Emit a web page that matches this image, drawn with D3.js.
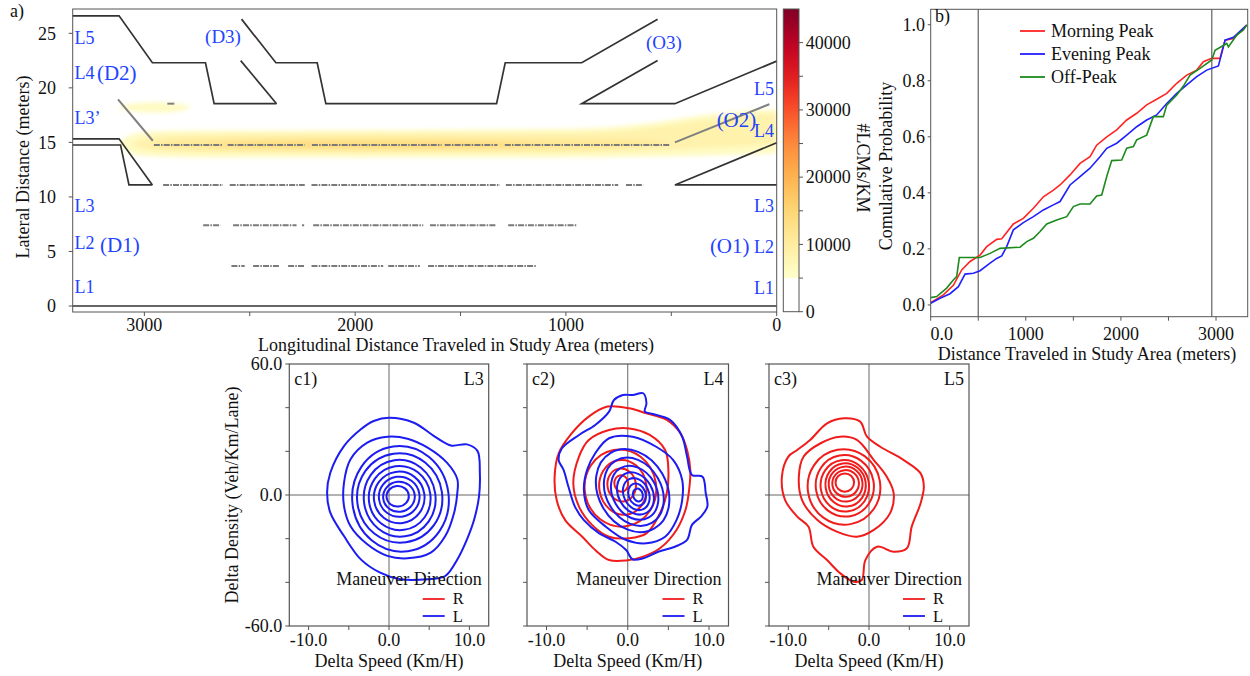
<!DOCTYPE html>
<html><head><meta charset="utf-8">
<script src="https://cdn.jsdelivr.net/npm/d3@7"></script>
<style>
body{margin:0;background:#fff;}
svg text{font-family:"Liberation Serif","Times New Roman",serif;font-size:18px;fill:#111;}
</style></head>
<body><svg id="chart" width="1250" height="676"></svg>
<script>
// ---------------- DATA ----------------
// Panel a: road geometry (x = metres from end of study area, y = lateral metres)
const aXTicks = [3000, 2000, 1000, 0];
const aXMinor = [2500, 1500, 500];
const aYTicks = [0, 5, 10, 15, 20, 25];
const roadLines = [
  [[3340,26.6],[3120,26.6],[2962,22.3],[2710,22.3],[2669,18.55],[2373,18.55]],
  [[2543,22.5],[2373,18.55]],
  [[2539,26.3],[2376,22.3],[2180,22.3],[2139,18.55],[1329,18.55],[1288,22.3],[925,22.3],[565,26.3]],
  [[565,22.5],[925,18.55],[483,18.55],[0,22.45]],
  [[3340,15.33],[3120,15.33],[2962,11.1]],
  [[3340,14.76],[3113,14.76],[3073,11.1],[2962,11.1]],
  [[0,14.97],[483,11.1],[0,11.1]],
  [[3340,0],[0,0]]
];
// lane-change trajectories: lateral position and observed longitudinal stretches
const lcLanes = [
  {y:14.76, segs:[[2955,2630],[2605,2240],[2205,1590],[1575,1325],[1290,506]]},
  {y:11.1,  segs:[[2911,2627],[2595,2239],[2207,1313],[1285,752],[715,633]]},
  {y:7.4,   segs:[[2721,2639],[2579,2278],[2252,2242],[2199,1677],[1645,1329],[1274,949]]},
  {y:3.67,  segs:[[2587,2524],[2484,2357],[2318,2239],[2207,1867],[1843,1693],[1654,1139]]}
];
const lcDiagonals = [
  [[3125,18.95],[2960,15.15]],
  [[483,15.0],[35,18.5]],
  [[2891,18.55],[2858,18.55]]
];
// LC density bands: value (#LCMs/KM) and [x, lower y, upper y]
const heatBands = [
  {v:6000, pts:[[3120,14.9,14.9],[3080,14.0,15.7],[3000,13.7,16.0],[2800,13.6,16.1],[2000,13.6,16.1],[1000,13.6,16.2],[744,13.65,16.4],[500,13.7,17.0],[364,13.75,17.5],[150,13.9,17.9],[0,14.0,18.0]]},
  {v:6000, pts:[[3125,18.2,18.2],[3080,17.85,18.55],[2950,17.65,18.75],[2820,17.85,18.55],[2775,18.2,18.2]]},
  {v:8500, pts:[[3060,14.8,14.8],[3000,14.2,15.6],[2800,14.0,15.8],[1000,14.0,15.8],[744,14.1,16.0],[500,14.3,16.6],[300,14.5,17.2],[100,14.7,17.6],[0,14.8,17.7]]},
  {v:11000, pts:[[2980,14.8,14.8],[2850,14.25,15.4],[2000,14.2,15.5],[1200,14.25,15.4],[800,14.4,15.3],[600,14.7,15.2],[500,14.9,14.9]]},
  {v:13500, pts:[[2700,14.8,14.8],[2500,14.45,15.15],[1800,14.4,15.2],[1300,14.5,15.1],[1100,14.8,14.8]]}
];
const laneLabels = [
  {t:"L5", x:3331, y:24.02, a:"start", s:18},
  {t:"L4", x:3331, y:20.81, a:"start", s:18},
  {t:"(D2)", x:3225, y:20.72, a:"start", s:21},
  {t:"L3\u2019", x:3331, y:16.69, a:"start", s:18},
  {t:"L3", x:3331, y:8.62, a:"start", s:18},
  {t:"L2", x:3331, y:5.23, a:"start", s:18},
  {t:"(D1)", x:3210, y:4.95, a:"start", s:21},
  {t:"L1", x:3331, y:1.19, a:"start", s:18},
  {t:"(D3)", x:2712, y:24.11, a:"start", s:19},
  {t:"(O3)", x:620, y:23.56, a:"start", s:19},
  {t:"L5", x:13, y:19.34, a:"end", s:18},
  {t:"(O2)", x:285, y:16.41, a:"start", s:21},
  {t:"L4", x:13, y:15.49, a:"end", s:18},
  {t:"L3", x:13, y:8.62, a:"end", s:18},
  {t:"(O1)", x:317, y:4.86, a:"start", s:21},
  {t:"L2", x:13, y:4.86, a:"end", s:18},
  {t:"L1", x:13, y:1.10, a:"end", s:18}
];
// colour bar
const cbTicks = [0, 10000, 20000, 30000, 40000];
const cbMinor = [5000, 15000, 25000, 35000];
const cbThreshold = 5000;

// Panel b: cumulative probability
const bXTicks = [0, 1000, 2000, 3000];
const bXLabels = ["0.0", "1000", "2000", "3000"];
const bXMinor = [500, 1500, 2500];
const bYTicks = [0, 0.2, 0.4, 0.6, 0.8, 1.0];
const bVLines = [500, 2955];
const morningPeak = [[0,0.008],[133,0.036],[238,0.07],[326,0.125],[414,0.155],[519,0.178],[589,0.208],[694,0.234],[747,0.236],[869,0.289],[974,0.309],[1080,0.345],[1185,0.386],[1290,0.41],[1360,0.428],[1465,0.464],[1570,0.505],[1675,0.529],[1745,0.57],[1851,0.6],[1956,0.625],[2061,0.66],[2166,0.684],[2271,0.714],[2376,0.734],[2482,0.755],[2587,0.791],[2692,0.82],[2797,0.838],[2867,0.868],[2955,0.88],[3042,0.88],[3095,0.945],[3183,0.951],[3323,0.999]];
const eveningPeak = [[0,0.006],[98,0.024],[203,0.04],[291,0.065],[361,0.11],[449,0.113],[519,0.122],[624,0.149],[694,0.166],[747,0.175],[799,0.208],[869,0.268],[974,0.294],[1080,0.315],[1185,0.339],[1290,0.357],[1360,0.369],[1465,0.428],[1570,0.458],[1675,0.488],[1780,0.529],[1851,0.559],[1956,0.577],[2061,0.606],[2166,0.636],[2271,0.66],[2376,0.678],[2482,0.719],[2587,0.755],[2692,0.785],[2797,0.815],[2902,0.838],[3025,0.853],[3095,0.945],[3183,0.955],[3323,0.999]];
const offPeak = [[0,0.026],[63,0.03],[168,0.06],[238,0.089],[273,0.101],[301,0.169],[519,0.169],[624,0.184],[729,0.202],[939,0.206],[1010,0.226],[1080,0.238],[1150,0.262],[1220,0.289],[1325,0.303],[1430,0.315],[1500,0.351],[1570,0.36],[1675,0.36],[1745,0.389],[1798,0.392],[1851,0.458],[1903,0.515],[2008,0.517],[2061,0.559],[2131,0.565],[2166,0.589],[2271,0.606],[2341,0.672],[2446,0.672],[2482,0.713],[2587,0.749],[2657,0.781],[2727,0.82],[2832,0.844],[2955,0.874],[2990,0.909],[3113,0.933],[3130,0.921],[3218,0.963],[3288,0.981],[3323,0.999]];
const bSeries = [
  {name:"Morning Peak", data:morningPeak, color:"#ff2424"},
  {name:"Evening Peak", data:eveningPeak, color:"#2020ff"},
  {name:"Off-Peak", data:offPeak, color:"#1e8a1e"}
];

// Panel c: KDE contour rings (delta speed, delta density)
const cXTicks = [-10, -5, 0, 5, 10];
const cXLabeled = [-10, 0, 10];
const cYTicks = [-60, -40, -20, 0, 20, 40, 60];
const cYLabeled = [-60, 0, 60];
// irregular outer rings as outlines; inner rings as [cx, cy, rx, ry, tilt]
const c1L_outlines = [
  [[0,35.4],[3.1,33.1],[5.6,27],[7.7,22.7],[9.7,23.2],[11,20.2],[11.3,10.2],[11.2,-0.5],[10.6,-11.1],[9.7,-20.3],[8.5,-29.5],[7,-37.1],[4.8,-38.6],[1.4,-38.6],[-1.1,-35.6],[-3.5,-29.5],[-5.6,-18.8],[-7.3,-8.1],[-7.7,1.1],[-7.3,10.2],[-5.6,22.4],[-3.5,30.1],[-1.9,33.9]],
  [[-0.2,26.7],[2.3,25.8],[4.8,21.7],[7.2,14.8],[8.5,7.2],[8.5,1.1],[8.1,-8.1],[7,-18.8],[5.2,-26.4],[2.3,-29],[-0.2,-27.9],[-2.7,-22.6],[-4.8,-14.2],[-5.6,-5],[-5.6,5.6],[-4.8,16.3],[-2.7,24]]
];
const c1L_inner = [[1.43,-1.76,6.0,24.2,-8],[1.33,-1.37,5.3,20.5,-8],[1.33,-1.5,4.46,17.6,-8],[1.33,-1.4,3.84,14.7,-8],[1.27,-1.1,3.15,11.8,-8],[1.27,-0.8,2.53,9.2,-8],[1.24,-0.8,1.97,6.9,-6],[1.08,-0.6,1.39,4.7,-5]];
const c2R_outlines = [
  [[-2.5,40.5],[0.2,39.7],[2.3,37.4],[4.8,34.4],[6.5,28.2],[7.3,20.6],[7.7,11.5],[7.5,0.8],[7.1,-6.9],[6,-16],[3.96,-24.4],[1.9,-28.2],[-0.2,-30],[-2.3,-29.8],[-4,-25.2],[-5.6,-19.1],[-7.7,-11.5],[-8.75,-2.3],[-9,8.4],[-8.5,19.1],[-6.9,28.2],[-4.8,35.9]],
  [[-2.3,29.8],[0.2,30.5],[2.7,27.5],[4.6,20.6],[5,11.5],[4.8,0.8],[3.96,-8.4],[2.3,-17.6],[0.2,-19.8],[-2.3,-19.1],[-4.4,-13.7],[-6,-5.3],[-6.7,5.3],[-6,17.6],[-4.8,25.2]]
];
const c2R_inner = [[-0.9,3.2,4.4,17.7,-10],[-0.6,3.5,2.9,12.6,-10],[-0.75,4.6,1.75,7.6,-10],[-0.8,5.3,0.85,3.8,-5]];
const c2L_outlines = [
  [[0.6,45.8],[1.9,46.6],[2.3,42],[2.1,38.2],[3.1,37.1],[5.2,34.4],[6.7,26.7],[7.3,17.6],[7.9,9.2],[9.2,8.4],[9.6,0.8],[9.8,-5.3],[9,-9.9],[7.9,-13.7],[7.3,-20.6],[5.8,-23.7],[3.75,-26],[1.9,-29],[0.6,-29.5],[-0.2,-25.2],[-1.5,-21.4],[-3.5,-17.6],[-5.4,-11.5],[-6.5,-5.3],[-7.3,3.8],[-7.9,11.5],[-8.5,16],[-8.1,21.4],[-6,27.5],[-4,32.1],[-2.3,38.2],[-1.7,43.5],[-0.6,45.8]],
  [[-2.3,26],[0.6,26.7],[3.5,22.1],[5.6,16],[6.7,6.9],[6.7,-2.3],[6,-11.5],[4.6,-19.1],[2.3,-22.1],[-0.2,-20.6],[-2.7,-14.5],[-4.8,-6.9],[-5.4,2.3],[-5,11.5],[-4,19.1]]
];
const c2L_inner = [[0.6,2,4.2,20,-30],[0.75,1.5,3.4,16.5,-30],[0.85,1,2.7,13,-30],[0.95,0.7,2.1,10.2,-30],[1.05,0.4,1.55,7.6,-25],[1.15,0.2,1.05,5.2,-20],[1.25,0,0.6,3,-15]];
const c3R_outlines = [
  [[-3.1,35.1],[-1.1,33.6],[-0.25,26.7],[1.4,22.1],[4.3,16],[6.4,9.9],[6.8,3.8],[6.4,-3.8],[5.3,-14.5],[4.7,-24.4],[3.06,-26],[1,-23.7],[-0.45,-29.8],[-0.9,-38.9],[-1.9,-39.7],[-3.55,-35.9],[-5.2,-29.8],[-6.9,-23.7],[-7.5,-14.5],[-8.9,-9.9],[-10.4,-2.3],[-10.8,8.4],[-10,17.6],[-8.9,20.6],[-7.3,25.2],[-5.2,32.8]],
  [[-3.55,26.7],[-1.5,25.2],[0.6,16],[2.2,8.4],[3.06,0.8],[2.6,-8.4],[0.6,-16],[-1.5,-19.1],[-4,-16.8],[-6.4,-11.5],[-8.3,-2.3],[-8.7,8.4],[-8.1,17.6],[-6,23.7]]
];
const c3R_inner = [[-3.1,3.7,4.5,17.3,-10],[-3.0,4.2,3.6,14.1,-10],[-3.0,4.2,3.0,11.8,-8],[-2.9,4.6,2.5,9.9,-8],[-2.9,5.0,2.1,8.0,-5],[-2.9,5.3,1.65,6.1,-5],[-3.0,5.7,1.15,4.2,0]];
const cPanels = [
  {tag:"c1)", lane:"L3", R:null, L:{o:c1L_outlines, i:c1L_inner}, yLabels:true},
  {tag:"c2)", lane:"L4", R:{o:c2R_outlines, i:c2R_inner}, L:{o:c2L_outlines, i:c2L_inner}, yLabels:false},
  {tag:"c3)", lane:"L5", R:{o:c3R_outlines, i:c3R_inner}, L:null, yLabels:false}
];

// ---------------- DRAW ----------------
const svg = d3.select("#chart");
const FRAME = "#555";
const RED = "#f01c1c", BLUE = "#1c1cf0", LBLUE = "#2244ff";

function vTicksBottom(g, sc, vals, y0, len){
  vals.forEach(v=>g.append("line").attr("x1",sc(v)).attr("x2",sc(v)).attr("y1",y0).attr("y2",y0+len).attr("stroke",FRAME));
}
function hTicksLeft(g, sc, vals, x0, len){
  vals.forEach(v=>g.append("line").attr("x1",x0-len).attr("x2",x0).attr("y1",sc(v)).attr("y2",sc(v)).attr("stroke",FRAME));
}

// ===== Panel a =====
const ax = d3.scaleLinear().domain([3340,0]).range([72.7,776.7]);
const ay = d3.scaleLinear().domain([-0.55,27.23]).range([312,9]);
const ga = svg.append("g");
const defs = svg.append("defs");
defs.append("filter").attr("id","blur").attr("x","-10%").attr("y","-50%").attr("width","120%").attr("height","200%")
  .append("feGaussianBlur").attr("stdDeviation","2.2");
const heatColor = d3.scaleSequential(d3.interpolateYlOrRd).domain([cbThreshold,45000]);
const band = d3.area().x(d=>ax(d[0])).y0(d=>ay(d[1])).y1(d=>ay(d[2])).curve(d3.curveBasis);
const gh = ga.append("g").attr("filter","url(#blur)");
heatBands.forEach(b=>gh.append("path").attr("d",band(b.pts)).attr("fill",heatColor(b.v)));

const line = d3.line().x(d=>ax(d[0])).y(d=>ay(d[1]));
roadLines.forEach(l=>ga.append("path").attr("d",line(l)).attr("fill","none").attr("stroke","#333").attr("stroke-width",1.7));
lcLanes.forEach(l=>l.segs.forEach(s=>ga.append("line")
  .attr("x1",ax(s[0])).attr("x2",ax(s[1])).attr("y1",ay(l.y)).attr("y2",ay(l.y))
  .attr("stroke","#7a7a7a").attr("stroke-width",2).attr("stroke-dasharray","6,1.2,1.5,1.2")));
lcDiagonals.forEach(l=>ga.append("path").attr("d",line(l)).attr("fill","none").attr("stroke","#808080").attr("stroke-width",2));

ga.append("rect").attr("x",ax(3340)).attr("y",ay(27.23)).attr("width",ax(0)-ax(3340)).attr("height",ay(-0.55)-ay(27.23))
  .attr("fill","none").attr("stroke",FRAME).attr("stroke-width",1);
vTicksBottom(ga, ax, aXTicks.concat(aXMinor), 312, 4);
hTicksLeft(ga, ay, aYTicks, 72.7, 4);
aXTicks.forEach(v=>ga.append("text").attr("x",ax(v)).attr("y",330.5).attr("text-anchor","middle").text(v));
aYTicks.forEach(v=>ga.append("text").attr("x",56).attr("y",ay(v)).attr("dy","0.35em").attr("text-anchor","end").text(v));
ga.append("text").attr("x",456).attr("y",350.5).attr("text-anchor","middle").text("Longitudinal Distance Traveled in Study Area (meters)");
ga.append("text").attr("transform","translate(28.5,167) rotate(-90)").attr("text-anchor","middle").text("Lateral Distance (meters)");
ga.append("text").attr("x",10).attr("y",17).text("a)");
laneLabels.forEach(l=>ga.append("text").attr("x",ax(l.x)).attr("y",ay(l.y)).attr("text-anchor",l.a)
  .style("font-size",l.s+"px").style("fill",LBLUE).text(l.t));

// colour bar
const cby = d3.scaleLinear().domain([0,45000]).range([311.7,9]);
const grad = defs.append("linearGradient").attr("id","cbgrad").attr("x1",0).attr("x2",0).attr("y1",1).attr("y2",0);
d3.range(0,1.0001,0.05).forEach(t=>grad.append("stop").attr("offset",t).attr("stop-color",d3.interpolateYlOrRd(t)));
const gc = svg.append("g");
gc.append("rect").attr("x",783.3).attr("y",cby(45000)).attr("width",15.7).attr("height",cby(cbThreshold)-cby(45000)).attr("fill","url(#cbgrad)");
gc.append("rect").attr("x",783.3).attr("y",cby(45000)).attr("width",15.7).attr("height",cby(0)-cby(45000)).attr("fill","none").attr("stroke",FRAME);
cbTicks.concat(cbMinor).forEach(v=>gc.append("line").attr("x1",799).attr("x2",803).attr("y1",cby(v)).attr("y2",cby(v)).attr("stroke",FRAME));
cbTicks.forEach(v=>gc.append("text").attr("x",805.7).attr("y",cby(v)).attr("dy","0.35em").text(v));
gc.append("text").attr("transform","translate(857,168) rotate(90)").attr("text-anchor","middle").text("#LCMs/KM");

// ===== Panel b =====
const bx = d3.scaleLinear().domain([0,3333]).range([930.7,1247.7]);
const by = d3.scaleLinear().domain([-0.042,1.055]).range([316.7,9.3]);
const gb = svg.append("g");
bVLines.forEach(v=>gb.append("line").attr("x1",bx(v)).attr("x2",bx(v)).attr("y1",by(1.055)).attr("y2",by(-0.042)).attr("stroke","#777").attr("stroke-width",1.4));
const bline = d3.line().x(d=>bx(d[0])).y(d=>by(d[1]));
bSeries.forEach(s=>gb.append("path").attr("d",bline(s.data)).attr("fill","none").attr("stroke",s.color).attr("stroke-width",1.6));
gb.append("rect").attr("x",bx(0)).attr("y",by(1.055)).attr("width",bx(3333)-bx(0)).attr("height",by(-0.042)-by(1.055))
  .attr("fill","none").attr("stroke",FRAME);
vTicksBottom(gb, bx, bXTicks.concat(bXMinor), 316.7, 4);
hTicksLeft(gb, by, bYTicks, 930.7, 3);
bXTicks.forEach((v,i)=>gb.append("text").attr("x",bx(v)+(i===0?11:0)).attr("y",339.5).attr("text-anchor","middle").text(bXLabels[i]));
bYTicks.forEach(v=>gb.append("text").attr("x",925).attr("y",by(v)).attr("dy","0.35em").attr("text-anchor","end").text(v.toFixed(1)));
gb.append("text").attr("x",1087).attr("y",360).attr("text-anchor","middle").text("Distance Traveled in Study Area (meters)");
gb.append("text").attr("transform","translate(892,166) rotate(-90)").attr("text-anchor","middle").text("Comulative Probability");
gb.append("text").attr("x",935).attr("y",22).text("b)");
bSeries.forEach((s,i)=>{
  const yy = 31 + i*23;
  gb.append("line").attr("x1",1020).attr("x2",1045).attr("y1",yy).attr("y2",yy).attr("stroke",s.color).attr("stroke-width",1.8);
  gb.append("text").attr("x",1051).attr("y",yy+6).text(s.name);
});

// ===== Panels c =====
const cRanges = [[289.3,488.7],[527,728.5],[769,969]];
const cTop = 364, cBot = 626;
cPanels.forEach((p,k)=>{
  const X = d3.scaleLinear().domain([-12.4,12.4]).range(cRanges[k]);
  const Y = d3.scaleLinear().domain([-60,60]).range([cBot,cTop]);
  const g = svg.append("g");
  const L = cRanges[k][0], R = cRanges[k][1];
  g.append("line").attr("x1",X(0)).attr("x2",X(0)).attr("y1",cTop).attr("y2",cBot).attr("stroke","#666").attr("stroke-width",1);
  g.append("line").attr("x1",L).attr("x2",R).attr("y1",Y(0)).attr("y2",Y(0)).attr("stroke","#666").attr("stroke-width",1);
  const ring = d3.line().x(d=>X(d[0])).y(d=>Y(d[1])).curve(d3.curveCatmullRomClosed.alpha(0.5));
  const drawSet = (set,color)=>{
    if(!set) return;
    set.o.forEach(o=>g.append("path").attr("d",ring(o)).attr("fill","none").attr("stroke",color).attr("stroke-width",2));
    set.i.forEach(e=>g.append("ellipse").attr("cx",X(e[0])).attr("cy",Y(e[1]))
      .attr("rx",X(e[0]+e[2])-X(e[0])).attr("ry",Y(e[1])-Y(e[1]+e[3]))
      .attr("transform",`rotate(${e[4]},${X(e[0])},${Y(e[1])})`)
      .attr("fill","none").attr("stroke",color).attr("stroke-width",2));
  };
  drawSet(p.R, RED);
  drawSet(p.L, BLUE);
  g.append("rect").attr("x",L).attr("y",cTop).attr("width",R-L).attr("height",cBot-cTop).attr("fill","none").attr("stroke",FRAME).attr("stroke-width",1.2);
  vTicksBottom(g, X, cXTicks, cBot, 4);
  hTicksLeft(g, Y, cYTicks, L, 4);
  cXLabeled.forEach(v=>g.append("text").attr("x",X(v)).attr("y",646).attr("text-anchor","middle").text(v.toFixed(1)));
  if(p.yLabels) cYLabeled.forEach(v=>g.append("text").attr("x",L-7).attr("y",Y(v)).attr("dy","0.35em").attr("text-anchor","end").text(v.toFixed(1)));
  g.append("text").attr("x",(L+R)/2).attr("y",667).attr("text-anchor","middle").text("Delta Speed (Km/H)");
  g.append("text").attr("x",L+5).attr("y",385).text(p.tag);
  g.append("text").attr("x",R-5).attr("y",385).attr("text-anchor","end").text(p.lane);
  g.append("text").attr("x",R-7).attr("y",585).attr("text-anchor","end").text("Maneuver Direction");
  [["R",RED,599,604],["L",BLUE,616,622]].forEach(d=>{
    g.append("line").attr("x1",R-66).attr("x2",R-44).attr("y1",d[2]).attr("y2",d[2]).attr("stroke",d[1]).attr("stroke-width",1.8);
    g.append("text").attr("x",R-36).attr("y",d[3]).style("font-size","16.5px").text(d[0]);
  });
});
svg.append("text").attr("transform","translate(238,495) rotate(-90)").attr("text-anchor","middle").text("Delta Density (Veh/Km/Lane)");
</script></body></html>
